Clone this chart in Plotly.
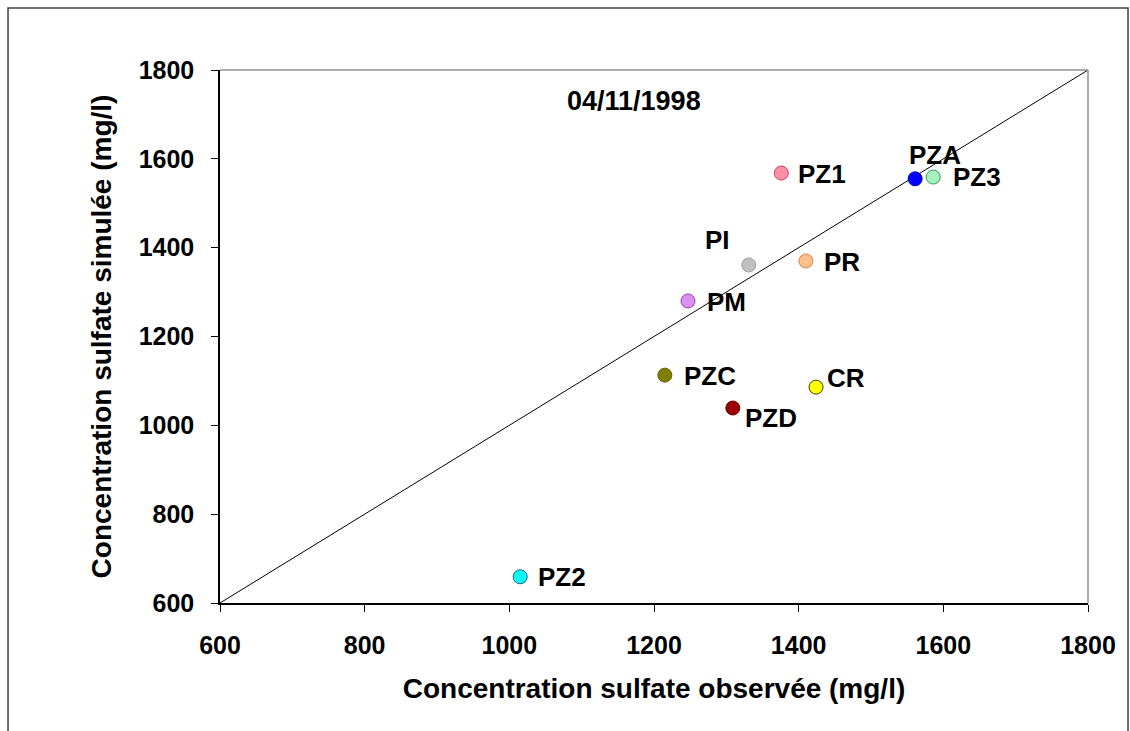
import plotly.graph_objects as go

names = ["PZ1", "PZA", "PZ3", "PI", "PR", "PM", "PZC", "CR", "PZD", "PZ2"]
observed = [1376, 1561, 1586, 1331, 1410, 1247, 1215, 1424, 1309, 1015]
simulated = [1568, 1555, 1559, 1361, 1370, 1280, 1113, 1086, 1039, 659]
fill_colors = ["#ff8fa8", "#0000ff", "#a8f0c0", "#c0c0c0", "#ffc090", "#dc90f0",
               "#808000", "#ffff00", "#990000", "#00ffff"]
edge_colors = ["#d04060", "#0000cc", "#30a060", "#a0a0a0", "#e08040", "#9040b0",
               "#606000", "#404000", "#700000", "#206080"]
label_dx = [15, 20, 18, -31, 16, 17, 17, 9, 10, 16]
label_dy = [-1, 24, 0, 25, -1, -1, -1, 9, -10, 0]
label_anchor = ["left", "center", "left", "center", "left", "left", "left", "left", "left", "left"]

diag = [600, 1800]
ticks = [600, 800, 1000, 1200, 1400, 1600, 1800]

FONT = "Liberation Sans, Arial"

fig = go.Figure()
fig.add_trace(go.Scatter(x=diag, y=diag, mode="lines",
                         line=dict(color="black", width=1), hoverinfo="skip",
                         showlegend=False))
fig.add_trace(go.Scatter(x=observed, y=simulated, mode="markers",
                         marker=dict(size=14, color=fill_colors,
                                     line=dict(color=edge_colors, width=1)),
                         text=names, showlegend=False))

for n, xo, ys, dx, dy, an in zip(names, observed, simulated, label_dx, label_dy, label_anchor):
    fig.add_annotation(x=xo, y=ys, text=n, showarrow=False, xanchor=an,
                       xshift=dx, yshift=dy,
                       font=dict(family=FONT, size=26, color="black", weight="bold"))

fig.add_annotation(x=0.477, y=0.942, xref="paper", yref="paper", text="04/11/1998",
                   showarrow=False, xanchor="center", yanchor="middle",
                   font=dict(family=FONT, size=27, color="black", weight="bold"))

# top/right frame of plot area (gray)
fig.add_shape(type="line", xref="paper", yref="paper", x0=0, x1=1, y0=1, y1=1,
              line=dict(color="#909090", width=1.5))
fig.add_shape(type="line", xref="paper", yref="paper", x0=1, x1=1, y0=0, y1=1,
              line=dict(color="#909090", width=1.5))
# outer chart frame
fig.add_shape(type="rect", xref="paper", yref="paper", x0=-0.2442, x1=1.0461,
              y0=-0.26, y1=1.1163, line=dict(color="#404040", width=1.5))

tick_font = dict(family=FONT, size=25, color="black", weight="bold")
title_font = dict(family=FONT, size=28, color="black", weight="bold")
fig.update_xaxes(range=diag, tickvals=ticks, showgrid=False, zeroline=False,
                 showline=True, linecolor="black", linewidth=1.5,
                 ticks="outside", ticklen=7, tickcolor="black",
                 tickfont=tick_font, ticklabelstandoff=12,
                 title=dict(text="Concentration sulfate observée (mg/l)",
                            font=title_font, standoff=21))
fig.update_yaxes(range=diag, tickvals=ticks, showgrid=False, zeroline=False,
                 showline=True, linecolor="black", linewidth=1.5,
                 ticks="outside", ticklen=7, tickcolor="black",
                 tickfont=tick_font, ticklabelstandoff=12,
                 title=dict(text="Concentration sulfate simulée (mg/l)",
                            font=title_font, standoff=19))
fig.update_layout(width=1130, height=731, margin=dict(l=220, r=42, t=70, b=128),
                  plot_bgcolor="white", paper_bgcolor="white")
fig.write_html("out.html")
